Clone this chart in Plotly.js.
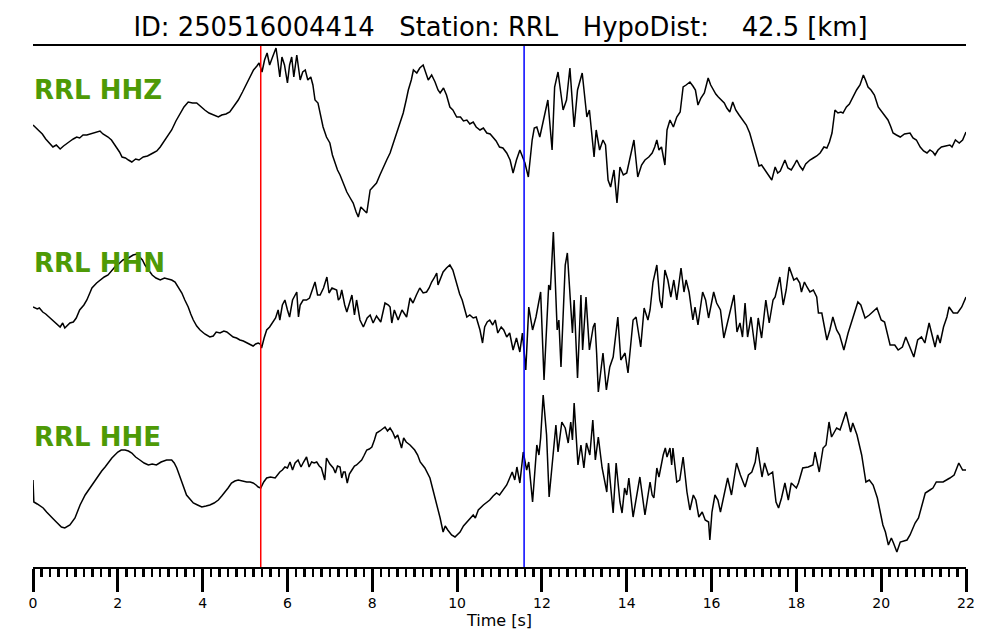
<!DOCTYPE html>
<html>
<head>
<meta charset="utf-8">
<script src="https://cdn.plot.ly/plotly-3.0.1.min.js"></script>
<style>html,body{margin:0;padding:0;background:#fff;}#chart{width:1000px;height:640px;}</style>
</head>
<body>
<div id="chart"></div>
<script>
// ---- data (time in s, normalized amplitude per trace) ----
const eventId = "250516004414";
const station = "RRL";
const hypoDist = 42.5;
const channels = ["HHZ", "HHN", "HHE"];
const pickP = 5.37;
const pickS = 11.58;

const hhzT = [0.00,0.08,0.15,0.22,0.30,0.38,0.47,0.55,0.64,0.72,0.80,0.88,0.95,1.03,1.10,1.18,1.27,1.35,1.45,1.58,1.65,1.77,1.85,1.97,2.04,2.10,2.18,2.25,2.33,2.42,2.50,2.60,2.70,2.83,2.92,3.00,3.08,3.18,3.27,3.37,3.47,3.56,3.66,3.76,3.86,3.96,4.05,4.15,4.26,4.37,4.45,4.55,4.64,4.74,4.84,4.94,5.04,5.12,5.20,5.28,5.33,5.40,5.46,5.52,5.58,5.64,5.73,5.77,5.82,5.87,5.93,6.00,6.05,6.10,6.15,6.22,6.26,6.30,6.36,6.42,6.48,6.55,6.60,6.65,6.72,6.78,6.84,6.92,7.00,7.06,7.12,7.18,7.24,7.32,7.40,7.48,7.55,7.62,7.67,7.73,7.80,7.87,7.95,8.02,8.10,8.18,8.26,8.34,8.42,8.50,8.58,8.65,8.73,8.80,8.85,8.92,8.97,9.05,9.12,9.20,9.26,9.32,9.40,9.48,9.55,9.60,9.68,9.75,9.83,9.90,9.99,10.08,10.15,10.23,10.30,10.38,10.45,10.54,10.62,10.70,10.78,10.85,10.92,11.00,11.08,11.17,11.25,11.32,11.40,11.48,11.55,11.60,11.68,11.77,11.82,11.88,11.95,12.05,12.14,12.24,12.30,12.38,12.44,12.50,12.58,12.66,12.76,12.84,12.95,13.06,13.12,13.18,13.23,13.28,13.36,13.44,13.50,13.56,13.62,13.70,13.77,13.84,13.92,14.00,14.05,14.17,14.26,14.35,14.43,14.52,14.60,14.66,14.71,14.76,14.82,14.90,14.95,15.02,15.10,15.18,15.26,15.33,15.40,15.49,15.56,15.62,15.68,15.75,15.83,15.92,15.98,16.04,16.10,16.16,16.22,16.30,16.36,16.43,16.50,16.57,16.65,16.74,16.82,16.90,16.98,17.06,17.12,17.18,17.26,17.34,17.42,17.50,17.56,17.62,17.73,17.80,17.88,17.95,18.01,18.08,18.15,18.22,18.32,18.40,18.48,18.56,18.65,18.72,18.78,18.84,18.91,18.98,19.05,19.10,19.18,19.25,19.33,19.42,19.50,19.58,19.63,19.69,19.76,19.84,19.93,20.00,20.09,20.16,20.22,20.28,20.36,20.45,20.55,20.68,20.75,20.83,20.92,21.00,21.08,21.15,21.22,21.27,21.34,21.42,21.52,21.62,21.67,21.75,21.84,21.92,22.00];
const hhzA = [10,7,4,1,-4,-8,-12,-10,-14,-11,-8,-6,-4,-2,-3,0,0,1,2,4,1,-2,-5,-12,-17,-22,-23,-25,-27,-24,-25,-22,-21,-18,-16,-12,-7,-1,5,14,22,28,33,32,32,28,25,22,20,18,20,21,23,29,35,43,52,59,65,69,72,63,75,82,70,77,87,75,58,78,70,52,70,78,58,80,65,55,63,65,55,58,50,35,32,20,8,-2,-8,-20,-28,-35,-40,-48,-57,-63,-68,-77,-82,-72,-75,-78,-55,-52,-48,-40,-32,-25,-18,-8,2,12,22,35,45,55,65,62,67,70,63,55,60,53,45,42,47,40,28,25,18,18,14,15,11,13,8,5,7,2,1,-2,-6,-12,-13,-18,-25,-38,-25,-15,-22,-28,-42,-5,7,8,-2,17,35,-15,48,63,45,25,35,67,8,45,62,18,25,2,-22,5,-15,-5,-10,-45,-52,-35,-68,-32,-40,-38,-28,-5,-42,-30,-25,-22,-18,-12,-5,-15,-12,-30,5,15,8,18,23,48,50,53,49,45,30,37,42,57,50,45,41,38,35,32,27,23,33,25,20,15,10,2,-10,-22,-31,-30,-35,-39,-45,-32,-38,-36,-25,-33,-35,-30,-25,-31,-35,-29,-25,-23,-21,-18,-12,-13,-7,2,25,22,23,22,28,31,38,45,50,60,55,48,45,40,28,24,18,15,9,2,0,-2,1,2,-3,-5,-12,-16,-18,-15,-17,-20,-15,-12,-11,-10,-12,-5,-8,-5,3];

const hhnT = [0.00,0.10,0.15,0.23,0.30,0.40,0.45,0.55,0.64,0.70,0.75,0.87,0.95,1.02,1.10,1.20,1.27,1.35,1.39,1.50,1.58,1.68,1.77,1.85,1.93,2.02,2.12,2.25,2.36,2.45,2.52,2.58,2.64,2.72,2.81,2.90,3.00,3.10,3.18,3.27,3.35,3.43,3.51,3.58,3.66,3.72,3.78,3.86,3.94,4.05,4.17,4.25,4.32,4.41,4.50,4.57,4.65,4.72,4.80,4.88,4.96,5.04,5.12,5.19,5.25,5.31,5.36,5.39,5.45,5.51,5.58,5.65,5.72,5.78,5.82,5.88,5.94,6.00,6.05,6.12,6.22,6.26,6.30,6.37,6.45,6.52,6.58,6.65,6.71,6.77,6.85,6.93,6.98,7.05,7.16,7.20,7.24,7.28,7.35,7.40,7.52,7.58,7.63,7.71,7.79,7.88,7.95,8.02,8.10,8.14,8.20,8.30,8.38,8.42,8.46,8.52,8.61,8.70,8.77,8.81,8.89,8.96,9.04,9.12,9.20,9.28,9.34,9.40,9.46,9.52,9.55,9.61,9.67,9.75,9.83,9.90,9.96,10.00,10.06,10.12,10.18,10.23,10.30,10.38,10.45,10.54,10.60,10.65,10.71,10.77,10.84,10.90,10.96,11.04,11.10,11.17,11.24,11.32,11.40,11.48,11.54,11.62,11.69,11.78,11.86,11.97,12.05,12.16,12.20,12.27,12.36,12.40,12.45,12.55,12.60,12.72,12.76,12.84,12.92,12.96,13.04,13.12,13.21,13.25,13.29,13.33,13.44,13.52,13.60,13.68,13.79,13.86,13.96,14.03,14.15,14.22,14.33,14.41,14.50,14.55,14.62,14.71,14.78,14.83,14.90,14.97,15.04,15.11,15.18,15.28,15.35,15.40,15.47,15.56,15.61,15.68,15.79,15.86,15.93,16.05,16.12,16.21,16.29,16.43,16.53,16.60,16.67,16.73,16.79,16.85,16.93,17.03,17.10,17.18,17.28,17.36,17.45,17.50,17.61,17.69,17.76,17.83,17.94,18.01,18.08,18.12,18.19,18.25,18.32,18.40,18.48,18.52,18.60,18.72,18.79,18.86,18.95,19.02,19.12,19.22,19.33,19.45,19.52,19.62,19.72,19.80,19.90,20.00,20.08,20.21,20.32,20.40,20.50,20.58,20.68,20.77,20.86,20.95,21.03,21.13,21.20,21.27,21.33,21.39,21.47,21.55,21.60,21.70,21.80,21.90,22.00];
const hhnA = [4,2,3,-1,-3,-7,-9,-12,-16,-12,-17,-12,-11,-7,1,6,11,19,23,28,31,34,36,40,44,47,51,53,56,57,54,51,46,41,36,33,31,33,32,31,29,24,18,11,4,-3,-9,-15,-19,-23,-26,-25,-21,-22,-20,-21,-24,-26,-27,-29,-30,-32,-34,-35,-33,-32,-33,-37,-27,-19,-16,-11,-7,1,-9,6,11,1,-6,11,19,-6,6,11,11,13,21,29,16,16,23,34,18,23,21,11,13,21,6,-1,16,-4,11,-9,-16,-7,-4,-12,-5,-7,-11,8,6,4,-12,1,-9,1,-3,-6,13,8,16,23,18,19,23,29,33,38,26,33,39,43,46,41,31,24,17,11,3,-6,-4,-7,-6,-19,-32,-16,-11,-9,-14,-9,-22,-16,-19,-26,-22,-39,-27,-41,-22,-59,4,-19,-6,19,-69,26,21,79,-19,-9,-56,46,58,-22,11,-67,16,-39,14,-39,-16,-12,-42,-81,-42,-79,-56,-46,-6,-49,-42,-62,-9,-6,-36,3,-9,1,29,46,11,3,41,31,14,31,11,43,19,31,19,-9,4,-14,19,11,-7,19,8,1,-27,-2,16,-21,-12,-26,8,-26,-6,-39,-7,-27,11,-12,11,14,34,6,21,44,31,33,28,19,29,24,19,21,14,-2,-2,-29,-19,-6,-19,-24,-39,-22,-6,9,6,-7,-4,-1,3,-9,-11,-34,-34,-39,-36,-26,-36,-46,-29,-26,-32,-12,-24,-36,-24,-32,-16,-6,4,-2,-2,4,14];

const hheT = [0.00,0.02,0.10,0.24,0.32,0.40,0.48,0.55,0.67,0.75,0.82,0.87,0.99,1.05,1.11,1.23,1.31,1.39,1.54,1.62,1.70,1.78,1.86,2.00,2.08,2.17,2.25,2.33,2.42,2.52,2.62,2.72,2.81,2.91,3.02,3.15,3.27,3.33,3.39,3.45,3.51,3.57,3.62,3.70,3.78,3.88,3.98,4.08,4.17,4.27,4.37,4.45,4.53,4.60,4.68,4.76,4.84,4.94,5.04,5.12,5.19,5.26,5.31,5.37,5.44,5.51,5.60,5.71,5.77,5.82,5.88,5.94,6.00,6.06,6.12,6.18,6.25,6.32,6.38,6.45,6.51,6.57,6.63,6.69,6.75,6.80,6.88,6.92,7.00,7.08,7.13,7.18,7.24,7.28,7.32,7.36,7.41,7.46,7.52,7.58,7.63,7.70,7.75,7.80,7.87,7.93,7.99,8.05,8.10,8.18,8.24,8.30,8.36,8.42,8.48,8.54,8.60,8.69,8.74,8.80,8.89,9.00,9.07,9.13,9.24,9.36,9.42,9.48,9.55,9.60,9.67,9.72,9.78,9.87,9.95,10.01,10.07,10.15,10.23,10.30,10.38,10.43,10.50,10.62,10.70,10.77,10.85,10.93,11.00,11.08,11.17,11.24,11.30,11.36,11.41,11.48,11.56,11.64,11.69,11.78,11.88,11.93,11.97,12.03,12.11,12.17,12.27,12.33,12.38,12.47,12.55,12.62,12.68,12.72,12.76,12.85,12.92,12.99,13.05,13.13,13.20,13.26,13.33,13.42,13.53,13.57,13.68,13.75,13.84,13.89,13.95,14.00,14.05,14.15,14.31,14.43,14.55,14.60,14.64,14.71,14.76,14.86,14.91,14.95,15.02,15.06,15.09,15.18,15.25,15.33,15.42,15.49,15.57,15.63,15.70,15.78,15.85,15.93,15.96,16.01,16.08,16.15,16.21,16.28,16.38,16.47,16.59,16.68,16.79,16.87,16.95,17.03,17.08,17.19,17.25,17.34,17.44,17.52,17.58,17.65,17.73,17.81,17.88,18.00,18.05,18.15,18.28,18.39,18.44,18.54,18.63,18.70,18.77,18.83,18.95,19.03,19.10,19.17,19.28,19.33,19.43,19.54,19.64,19.72,19.81,19.91,20.04,20.10,20.17,20.24,20.29,20.37,20.45,20.61,20.68,20.80,20.88,20.96,21.04,21.15,21.22,21.30,21.46,21.62,21.72,21.83,21.92,22.00];
const hheA = [-7,-29,-31,-35,-39,-42,-46,-49,-54,-55,-53,-52,-45,-39,-32,-22,-17,-12,-2,2,6,11,15,21,23,23,22,20,16,13,10,8,9,8,11,13,13,10,5,-2,-9,-16,-22,-26,-30,-32,-34,-33,-32,-30,-27,-23,-19,-15,-10,-8,-7,-8,-9,-9,-10,-12,-14,-15,-9,-5,-4,-5,-1,1,3,6,5,11,3,10,13,6,11,16,6,11,10,11,7,5,-7,15,9,5,0,7,6,-5,1,1,-10,-1,3,7,8,11,13,17,23,24,26,33,40,42,44,46,42,45,41,35,38,25,35,31,28,23,18,11,5,-5,-15,-25,-35,-45,-59,-53,-57,-62,-64,-61,-59,-53,-49,-45,-42,-45,-37,-32,-29,-27,-23,-20,-22,-17,-12,-5,1,-7,6,-10,21,3,11,-29,28,18,35,78,38,-24,25,48,21,51,45,30,51,33,70,8,28,5,30,18,53,13,36,5,-19,10,-40,10,-29,-40,-15,-22,-5,-44,-4,-42,-9,-22,-25,5,-4,18,25,16,25,8,25,-9,-7,16,-19,-37,-22,-27,-44,-39,-47,-49,-67,-39,-22,-27,-39,-25,-5,-22,10,-2,-14,-2,1,11,26,-4,10,-2,1,-29,-35,-25,-10,-27,-10,-15,-10,5,6,8,21,1,25,28,51,36,45,43,53,61,41,50,38,18,-9,-7,-12,-25,-52,-59,-72,-65,-70,-79,-69,-67,-62,-50,-45,-32,-20,-17,-15,-9,-9,-5,-2,10,3,3];

// ---- layout constants ----
const traceOffsets = [432, 256, 94];
const labelLevels = [477, 304, 130];
const labelGreen = "#4e9a06";
const FONT = "DejaVu Sans, Liberation Sans, sans-serif";

const series = [[hhzT, hhzA], [hhnT, hhnA], [hheT, hheA]];
const traces = series.map(([t, a], i) => ({
  type: "scatter", mode: "lines",
  x: t, y: a.map(v => v + traceOffsets[i]),
  line: {color: "black", width: 1.5},
  hoverinfo: "skip", name: channels[i]
}));

const sp = "\u00A0";
const titleText = "ID:" + sp + eventId + sp.repeat(3) + "Station:" + sp + station + sp.repeat(3) +
  "HypoDist:" + sp.repeat(4) + hypoDist.toFixed(1) + sp + "[km]";

const layout = {
  width: 1000, height: 640,
  margin: {l: 33, r: 34, t: 46, b: 73},
  paper_bgcolor: "white", plot_bgcolor: "white",
  showlegend: false,
  font: {family: FONT, color: "black"},
  title: {text: titleText, font: {family: FONT, size: 25.8, color: "black"},
          x: 0.501, xref: "paper", xanchor: "center", y: 1 - 27/640, yref: "container", yanchor: "middle"},
  xaxis: {
    range: [0, 22], tick0: 0, dtick: 2, ticks: "outside", ticklen: 23, tickwidth: 3, tickcolor: "black",
    showline: true, linecolor: "black", linewidth: 1.6, mirror: true,
    showgrid: false, zeroline: false, automargin: false, fixedrange: true,
    tickfont: {family: FONT, size: 14, color: "black"},
    minor: {tick0: 0, dtick: 0.2, ticks: "outside", ticklen: 8, tickwidth: 2.5, tickcolor: "black", showgrid: false},
    title: {text: "Time [s]", font: {family: FONT, size: 16, color: "black"}, standoff: 0}
  },
  yaxis: {range: [0, 521], visible: false, fixedrange: true, automargin: false},
  shapes: [
    {type: "line", xref: "x", yref: "paper", x0: pickP, x1: pickP, y0: 0, y1: 1, line: {color: "#ff0000", width: 1.5}},
    {type: "line", xref: "x", yref: "paper", x0: pickS, x1: pickS, y0: 0, y1: 1, line: {color: "#0000ff", width: 1.5}}
  ],
  annotations: channels.map((c, i) => ({
    text: station + " " + c, xref: "paper", x: 0, xanchor: "left", yref: "y", y: labelLevels[i], yanchor: "middle",
    showarrow: false, borderpad: 0,
    font: {family: FONT, size: 26, color: labelGreen, weight: "bold"}
  }))
};

Plotly.newPlot("chart", traces, layout, {staticPlot: true, displayModeBar: false});
</script>
</body>
</html>
